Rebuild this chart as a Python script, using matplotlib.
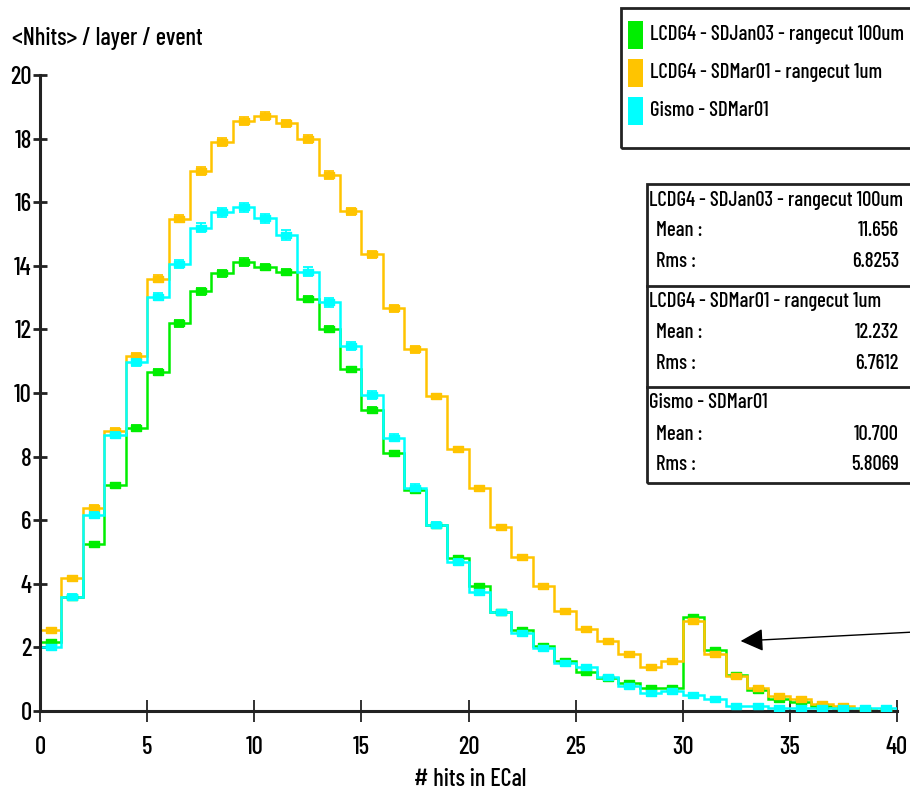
import matplotlib
matplotlib.use("Agg")
import matplotlib.pyplot as plt
from matplotlib import font_manager
from matplotlib.patches import Rectangle
import numpy as np

# pick a narrow, heavy-ish face; fall back to DejaVu Sans
installed = {f.name for f in font_manager.fontManager.ttflist}
FAM = ['DejaVu Sans']
for cand in ['Barlow Condensed', 'Saira Condensed', 'Archivo Narrow',
             'Oswald', 'Roboto Condensed', 'PT Sans Narrow',
             'Liberation Sans Narrow']:
    if cand in installed:
        FAM = [cand, 'DejaVu Sans']
        break
plt.rcParams['font.family'] = FAM
plt.rcParams['font.weight'] = 'medium'

# bin edges: 40 unit bins from 0 to 40
edges = np.arange(0, 41, 1)

jan03_100um = [2.16, 3.6, 5.24, 7.1, 8.89, 10.67, 12.19, 13.2, 13.76, 14.11,
               13.97, 13.81, 12.97, 12.02, 10.75, 9.47, 8.1, 6.95, 5.85, 4.8,
               3.94, 3.12, 2.55, 2.03, 1.58, 1.24, 1.05, 0.87, 0.71, 0.71,
               2.95, 1.92, 1.13, 0.66, 0.37, 0.29, 0.15, 0.08, 0.03, 0.01]
mar01_1um = [2.55, 4.17, 6.39, 8.81, 11.17, 13.6, 15.48, 16.99, 17.9, 18.56,
             18.71, 18.48, 17.99, 16.85, 15.72, 14.36, 12.66, 11.37, 9.9, 8.24,
             7.0, 5.8, 4.85, 3.93, 3.14, 2.57, 2.2, 1.78, 1.37, 1.58,
             2.84, 1.78, 1.1, 0.71, 0.48, 0.37, 0.21, 0.16, 0.02, 0.01]
gismo = [2.02, 3.6, 6.16, 8.68, 10.96, 13.03, 14.05, 15.2, 15.68, 15.84,
         15.49, 14.97, 13.81, 12.85, 11.48, 9.94, 8.6, 7.02, 5.85, 4.7,
         3.75, 3.1, 2.45, 1.97, 1.5, 1.37, 1.06, 0.8, 0.56, 0.64,
         0.5, 0.38, 0.17, 0.17, 0.08, 0.08, 0.08, 0.08, 0.08, 0.08]

err_jan03 = [0.05, 0.06, 0.07, 0.08, 0.09, 0.09, 0.1, 0.11, 0.11, 0.12,
             0.09, 0.09, 0.09, 0.09, 0.08, 0.08, 0.07, 0.06, 0.06, 0.05,
             0.05, 0.04, 0.04, 0.04, 0.03, 0.03, 0.03, 0.03, 0.02, 0.02,
             0.04, 0.03, 0.02, 0.02, 0.02, 0.01, 0.01, 0.01, 0.01, 0.01]
err_mar01 = [0.05, 0.06, 0.08, 0.09, 0.1, 0.1, 0.11, 0.12, 0.12, 0.12,
             0.12, 0.12, 0.12, 0.12, 0.11, 0.1, 0.1, 0.1, 0.08, 0.07,
             0.06, 0.06, 0.05, 0.05, 0.04, 0.04, 0.04, 0.03, 0.03, 0.03,
             0.04, 0.03, 0.03, 0.02, 0.02, 0.02, 0.01, 0.01, 0.01, 0.01]
err_gismo = [0.06, 0.07, 0.09, 0.1, 0.12, 0.12, 0.13, 0.14, 0.14, 0.15,
             0.15, 0.15, 0.14, 0.14, 0.13, 0.13, 0.12, 0.11, 0.08, 0.07,
             0.06, 0.06, 0.05, 0.05, 0.04, 0.04, 0.04, 0.03, 0.03, 0.03,
             0.02, 0.02, 0.01, 0.01, 0.01, 0.01, 0.01, 0.01, 0.01, 0.01]

labels = ["LCDG4 - SDJan03 - rangecut 100um",
          "LCDG4 - SDMar01 - rangecut 1um",
          "Gismo - SDMar01"]
colors = ['#00ee00', '#ffc400', '#00ffff']
means = ["11.656", "12.232", "10.700"]
rmss = ["6.8253", "6.7612", "5.8069"]

W, H = 910, 796
fig = plt.figure(figsize=(W / 100, H / 100), dpi=100)

# size text so the longest label is ~255 px wide, as in the reference
renderer = fig.canvas.get_renderer()
probe = fig.text(0, 0, labels[0], fontsize=12)
wpx = probe.get_window_extent(renderer).width
probe.remove()
FS = min(12 * 255 / wpx, 17)

ax = fig.add_axes([40 / W, 1 - 711 / H, (897 - 40) / W, (711 - 75) / H])

centers = (edges[:-1] + edges[1:]) / 2
# rectangular marker, wider than tall
rect_marker = [(-1.0, -0.6), (1.0, -0.6), (1.0, 0.6), (-1.0, 0.6), (-1.0, -0.6)]

series = [jan03_100um, mar01_1um, gismo]
errs = [err_jan03, err_mar01, err_gismo]
for vals, e, c in zip(series, errs, colors):
    ax.stairs(vals, edges, color=c, lw=1.8, baseline=0, zorder=2)
    ax.errorbar(centers, vals, yerr=e, fmt='none', ecolor=c, elinewidth=1.3,
                capsize=3.5, capthick=1.3, zorder=3)
    ax.plot(centers, vals, ls='none', marker=rect_marker, ms=7.5, color=c,
            zorder=3)

ax.set_xlim(0, 40)
ax.set_ylim(0, 20)
ax.set_xticks(np.arange(0, 41, 5))
ax.set_yticks(np.arange(0, 21, 2))
for s in ['top', 'right']:
    ax.spines[s].set_visible(False)
for s in ['left', 'bottom']:
    ax.spines[s].set_linewidth(2.2)
    ax.spines[s].set_color('#222222')
ax.tick_params(axis='y', direction='inout', length=10, width=2, labelsize=FS + 3,
               pad=1, color='#222222')
ax.tick_params(axis='x', direction='inout', length=16, width=1.3, labelsize=FS + 3,
               pad=10, color='#222222')

fig.text(12 / W, 1 - 38 / H, "<Nhits> / layer / event", fontsize=FS + 2.5,
         va='center', ha='left')
fig.text(470 / W, 1 - 779 / H, "# hits in ECal", fontsize=FS + 2.5,
         va='center', ha='center')


def px_rect(x0, y0, x1, y1, **kw):
    return Rectangle((x0 / W, 1 - y1 / H), (x1 - x0) / W, (y1 - y0) / H,
                     transform=fig.transFigure, **kw)


# legend box
fig.add_artist(px_rect(621, 8, 915, 148, fill=False, lw=2, ec='#222222'))
for i, (lab, c) in enumerate(zip(labels, colors)):
    yc = 35 + i * 38
    fig.add_artist(px_rect(628, yc - 14, 643, yc + 14, color=c, lw=0))
    fig.text(650 / W, 1 - yc / H, lab, fontsize=FS, va='center', ha='left')

# statistics box
fig.add_artist(px_rect(647, 184, 915, 483, fill=False, lw=2, ec='#222222'))
for i in range(3):
    top = 184 + i * 101.5
    if i > 0:
        fig.add_artist(plt.Line2D([647 / W, 1], [1 - top / H, 1 - top / H],
                                  transform=fig.transFigure, color='#222222', lw=2))
    fig.text(649 / W, 1 - (top + 16) / H, labels[i], fontsize=FS, va='center',
             ha='left')
    fig.text(656 / W, 1 - (top + 47) / H, "Mean :", fontsize=FS, va='center',
             ha='left')
    fig.text(899 / W, 1 - (top + 47) / H, means[i], fontsize=FS, va='center',
             ha='right')
    fig.text(656 / W, 1 - (top + 78) / H, "Rms :", fontsize=FS, va='center',
             ha='left')
    fig.text(899 / W, 1 - (top + 78) / H, rmss[i], fontsize=FS, va='center',
             ha='right')

# arrow pointing at the peak near 30 hits
ax.annotate("", xy=(32.7, 2.2), xytext=(40.7, 2.48), annotation_clip=False,
            arrowprops=dict(arrowstyle='-|>', color='black', lw=1,
                            mutation_scale=35, shrinkA=0, shrinkB=0))

fig.savefig("out.png", dpi=100)
